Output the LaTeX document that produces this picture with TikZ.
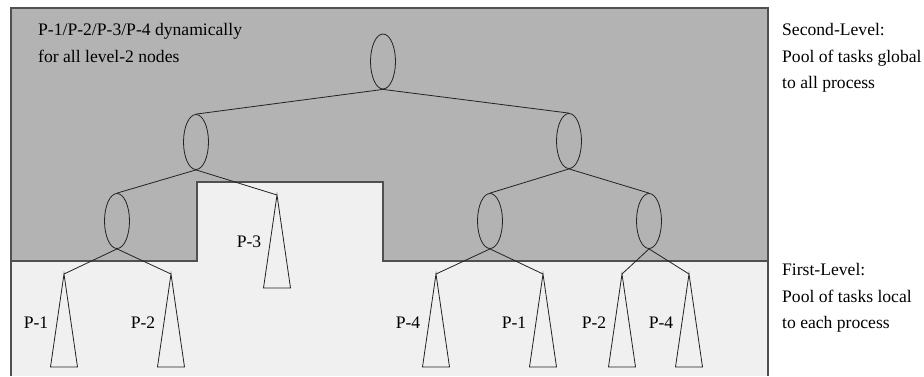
\documentclass[tikz,border=0pt]{standalone}
\usepackage{fontspec}
\setmainfont{Liberation Serif}
\usetikzlibrary{shapes.geometric}
\definecolor{globalpool}{RGB}{179,179,179}
\definecolor{localpool}{RGB}{240,240,240}
\definecolor{frameline}{RGB}{80,80,80}
\definecolor{treeline}{RGB}{34,34,34}
\tikzset{
  txt/.style={font=\fontsize{17.6}{27}\selectfont, inner sep=0pt, anchor=base west},
  lbl/.style={font=\fontsize{17.6}{27}\selectfont, inner sep=0pt},
  tnode/.style={draw=treeline, line width=0.8pt, ellipse, minimum width=25pt, minimum height=55pt, inner sep=0pt},
  edge/.style={draw=treeline, line width=0.8pt},
  subtree/.style={draw=treeline, line width=0.8pt, line join=miter},
  pool/.style={draw=frameline, line width=1.1pt}
}
\begin{document}
\begin{tikzpicture}[x=1pt, y=-1pt]
  \useasboundingbox (0,0) rectangle (924,376);
  \fill[white] (0,0) rectangle (924,376);

  % first level: local pools (light)
  \fill[localpool] (11,182) rectangle (768,376);
  \draw[pool] (11,261) -- (11,376);
  \draw[pool] (768,261) -- (768,376);

  % second level: global pool (dark), with the notch over P-3
  \filldraw[pool, fill=globalpool]
    (11,8) -- (768,8) -- (768,261) -- (383,261) -- (383,182)
    -- (197,182) -- (197,261) -- (11,261) -- cycle;

  % task tree
  \node[tnode] (root) at (383,61.5) {};
  \node[tnode] (l)  at (196,142) {};
  \node[tnode] (r)  at (569,141) {};
  \node[tnode] (ll) at (117,221) {};
  \node[tnode] (rl) at (490,221) {};
  \node[tnode] (rr) at (649,221) {};

  % apexes of the local subtrees
  \coordinate (t3) at (277,195);
  \coordinate (t1a) at (64,274);
  \coordinate (t2a) at (171,274);
  \coordinate (t4b) at (436,274);
  \coordinate (t1b) at (543,274);
  \coordinate (t2b) at (622,274);
  \coordinate (t4c) at (689,274);

  \draw[edge] (root.south) -- (l.north);
  \draw[edge] (root.south) -- (r.north);
  \draw[edge] (l.south) -- (ll.north);
  \draw[edge] (l.south) -- (t3);
  \draw[edge] (r.south) -- (rl.north);
  \draw[edge] (r.south) -- (rr.north);
  \draw[edge] (ll.south) -- (t1a);
  \draw[edge] (ll.south) -- (t2a);
  \draw[edge] (rl.south) -- (t4b);
  \draw[edge] (rl.south) -- (t1b);
  \draw[edge] (rr.south) -- (t2b);
  \draw[edge] (rr.south) -- (t4c);

  % subtrees as thin triangles
  \draw[subtree] (t3) -- ++(-13.5,93) -- ++(27,0) -- cycle;
  \foreach \t in {t1a,t2a,t4b,t1b,t2b,t4c}
    \draw[subtree] (\t) -- ++(-13.5,93) -- ++(27,0) -- cycle;

  % process labels
  \node[lbl] (p3)  at (249,242) {P-3};
  \node[lbl] (p1a) at (36,323) {P-1};
  \node[lbl] (p2a) at (143,323) {P-2};
  \node[lbl] (p4b) at (408,323) {P-4};
  \node[lbl] (p1b) at (514,323) {P-1};
  \node[lbl] (p2b) at (594,323) {P-2};
  \node[lbl] (p4c) at (661,323) {P-4};

  % captions
  \node[txt] (dyn1) at (38,35) {P-1/P-2/P-3/P-4 dynamically};
  \node[txt] (dyn2) at (38,62) {for all level-2 nodes};

  \node[txt] (sl1) at (782,35) {Second-Level:};
  \node[txt] (sl2) at (782,62) {Pool of tasks global};
  \node[txt] (sl3) at (782,88.5) {to all process};

  \node[txt] (fl1) at (782,275) {First-Level:};
  \node[txt] (fl2) at (782,302) {Pool of tasks local};
  \node[txt] (fl3) at (782,328.5) {to each process};
\end{tikzpicture}
\end{document}
